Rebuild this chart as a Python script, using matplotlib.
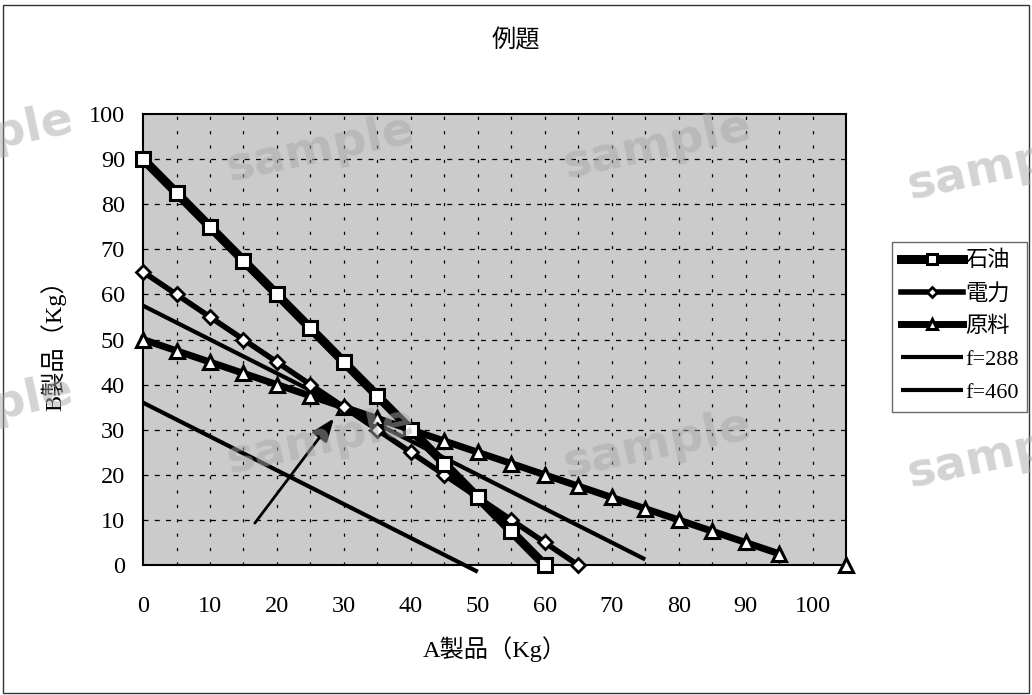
import numpy as np
import matplotlib
matplotlib.use("Agg")
import matplotlib.pyplot as plt
from matplotlib.patches import Rectangle

SERIF_JP = ["Liberation Serif", "Noto Sans CJK JP"]
SANS_JP = ["Noto Sans CJK JP", "DejaVu Sans"]

# --- data -------------------------------------------------------------
title = "例題"
x_label = "A製品（Kg）"
y_label = "B製品（Kg）"

x_oil = [0, 5, 10, 15, 20, 25, 30, 35, 40, 45, 50, 55, 60]
y_oil = [90, 82.5, 75, 67.5, 60, 52.5, 45, 37.5, 30, 22.5, 15, 7.5, 0]

x_power = [0, 5, 10, 15, 20, 25, 30, 35, 40, 45, 50, 55, 60, 65]
y_power = [65, 60, 55, 50, 45, 40, 35, 30, 25, 20, 15, 10, 5, 0]

x_raw = [0, 5, 10, 15, 20, 25, 30, 35, 40, 45, 50, 55, 60, 65, 70, 75,
         80, 85, 90, 95, 100, 105]
y_raw = [50, 47.5, 45, 42.5, 40, 37.5, 35, 32.5, 30, 27.5, 25, 22.5, 20,
         17.5, 15, 12.5, 10, 7.5, 5, 2.5, np.nan, 0]

x_f288 = [0, 50]
y_f288 = [36, -1.5]
x_f460 = [0, 75]
y_f460 = [57.5, 1.25]

series_names = ["石油", "電力", "原料", "f=288", "f=460"]
x_ticks = [0, 10, 20, 30, 40, 50, 60, 70, 80, 90, 100]
y_ticks = [0, 10, 20, 30, 40, 50, 60, 70, 80, 90, 100]

# arrow pointing at the optimum
arrow_tip = (28.5, 32.5)
arrow_tail = (16.7, 9.3)

# --- figure -----------------------------------------------------------
fig = plt.figure(figsize=(10.32, 6.95), dpi=100)
fig.patch.set_facecolor("white")
fig.patches.append(Rectangle((0.003, 0.003), 0.994, 0.99, transform=fig.transFigure,
                             fill=False, edgecolor="#333333", linewidth=1.0))

ax = fig.add_axes([0.1386, 0.187, 0.6812, 0.649])
ax.set_facecolor("#cbcbcb")
ax.set_xlim(0, 105)
ax.set_ylim(0, 100)

# grid: dashed horizontal every 10, sparse dashes vertical every 5
for yv in y_ticks[1:-1]:
    ax.axhline(yv, color="black", lw=0.9, dashes=(4, 5), zorder=1)
for xv in np.arange(5, 105, 5):
    ax.axvline(xv, color="black", lw=0.9, dashes=(2.5, 9), zorder=1)

ax.plot(x_f288, y_f288, color="black", lw=3.0, label=series_names[3],
        clip_on=False, zorder=3, solid_capstyle="butt")
ax.plot(x_f460, y_f460, color="black", lw=3.0, label=series_names[4],
        clip_on=False, zorder=3, solid_capstyle="butt")

ax.plot(x_raw, y_raw, color="black", lw=5, marker="^", ms=10, mfc="white",
        mec="black", mew=2.2, label=series_names[2], clip_on=False, zorder=4)
ax.plot(x_power, y_power, color="black", lw=4, marker="D", ms=7, mfc="white",
        mec="black", mew=2.0, label=series_names[1], clip_on=False, zorder=5)
ax.plot(x_oil, y_oil, color="black", lw=6.5, marker="s", ms=10.5, mfc="white",
        mec="black", mew=2.2, label=series_names[0], clip_on=False, zorder=6)

ax.annotate("", xy=arrow_tip, xytext=arrow_tail,
            arrowprops=dict(arrowstyle="-|>,head_length=1.4,head_width=0.55",
                            color="black", lw=2.0, shrinkA=0, shrinkB=0),
            zorder=7)

ax.set_xticks(x_ticks)
ax.set_yticks(y_ticks)
ax.tick_params(axis="x", length=0, pad=22, labelsize=17.5)
ax.tick_params(axis="y", length=0, pad=13, labelsize=17.5)
for lab in ax.get_xticklabels() + ax.get_yticklabels():
    lab.set_family(SERIF_JP)
for s in ax.spines.values():
    s.set_linewidth(1.5)
    s.set_color("black")

ax.set_xlabel(x_label, family=SERIF_JP, fontsize=17.5, labelpad=14)
ax.set_ylabel(y_label, family=SERIF_JP, fontsize=17.5, labelpad=16)
fig.text(0.5, 0.942, title, family=SANS_JP, fontsize=17.5, ha="center", va="center")

handles, labels = ax.get_legend_handles_labels()
order = [4, 3, 2, 0, 1]
leg = fig.legend([handles[i] for i in order], [labels[i] for i in order],
                 loc="upper left", bbox_to_anchor=(0.864, 0.652),
                 prop={"family": SERIF_JP, "size": 16}, frameon=True,
                 fancybox=False, edgecolor="#444444", handlelength=2.8,
                 handletextpad=0.1, borderpad=0.4, labelspacing=0.55,
                 borderaxespad=0, markerscale=0.75)
leg.get_frame().set_linewidth(1.0)

# watermark text
wm_positions = [(-0.02, 0.80), (0.31, 0.785), (0.637, 0.79), (0.97, 0.76),
                (-0.02, 0.41), (0.31, 0.365), (0.637, 0.36), (0.97, 0.345)]
for (wx, wy) in wm_positions:
    fig.text(wx, wy, "sample", fontsize=34, fontweight="bold", family="DejaVu Sans",
             color="#a8a8a8", alpha=0.5, rotation=12, ha="center", va="center",
             zorder=10)

fig.savefig("out.png", dpi=100)
